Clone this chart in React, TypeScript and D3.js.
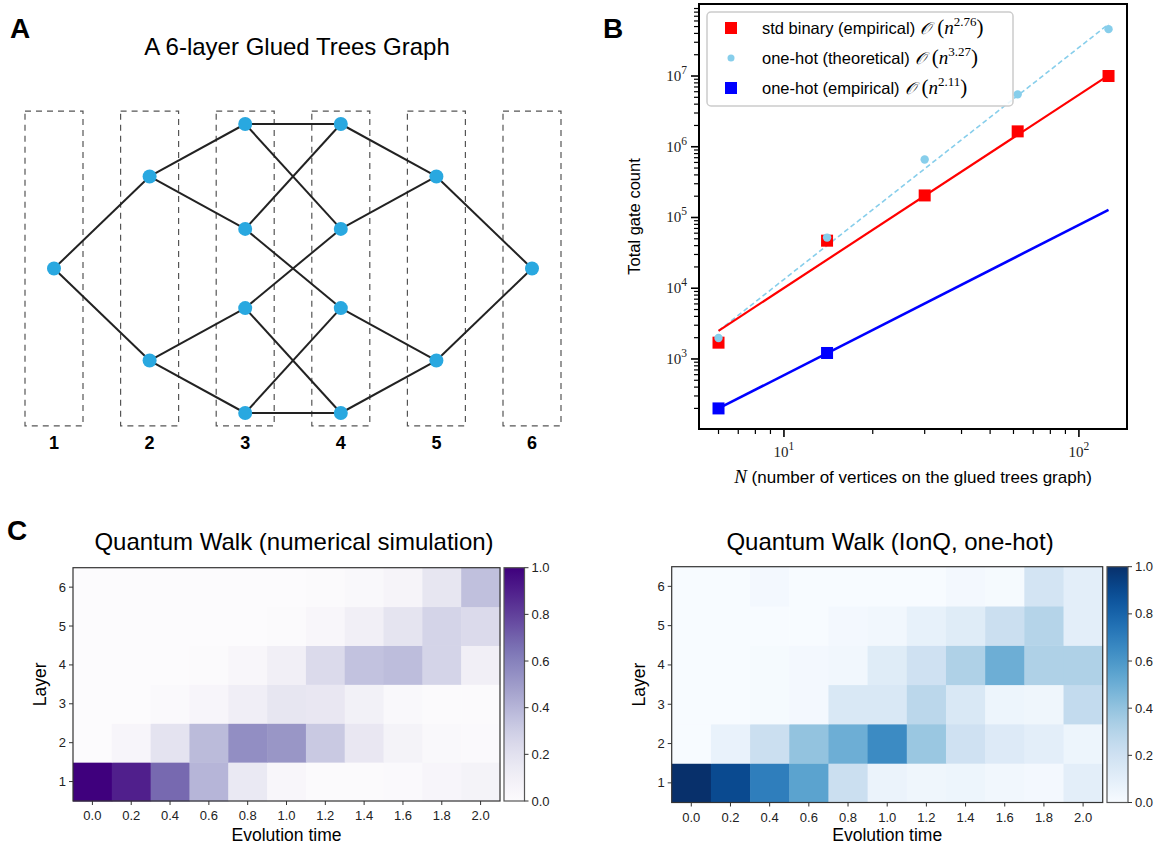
import React from 'react';
import * as d3 from 'd3';

// ---- panel A: glued trees graph ----
const layers = [1, 2, 3, 4, 5, 6];
const nodeLayer = [1, 2, 2, 3, 3, 3, 3, 4, 4, 4, 4, 5, 5, 6];
const nodeHeight = [0, 1, -1, 1.57, 0.43, -0.43, -1.57, 1.57, 0.43, -0.43, -1.57, 1, -1, 0];
const edges = [
  [0, 1], [0, 2], [1, 3], [1, 4], [2, 5], [2, 6],
  [3, 7], [3, 8], [4, 7], [4, 9], [5, 8], [5, 10], [6, 9], [6, 10],
  [7, 11], [8, 11], [9, 12], [10, 12], [11, 13], [12, 13],
];
const boxExtent = [-1.71, 1.71];

// ---- panel B: gate counts ----
const nVertices = [6, 14, 30, 62, 126];
const stdBinary = [1700, 47000, 205000, 1.65e6, 1.0e7];
const oneHotTheory = [1980, 52000, 660000, 5.5e6, 4.6e7];
const oneHotEmpN = [6, 14];
const oneHotEmp = [200, 1215];
const fitN = [6, 126];
const stdFit = [2500, 1.02e7];
const theoryFit = [2500, 5.4e7];
const oneHotFit = [200, 1.28e5];
const yDecades = [3, 4, 5, 6, 7];
const xDecades = [1, 2];

// ---- panel C: quantum walk heatmaps (rows = layer 1..6) ----
const times = ['0.0', '0.2', '0.4', '0.6', '0.8', '1.0', '1.2', '1.4', '1.6', '1.8', '2.0'];
const layerNames = ['1', '2', '3', '4', '5', '6'];
const simData = [
  [1.0, 0.9, 0.68, 0.4, 0.15, 0.04, 0.01, 0.01, 0.02, 0.05, 0.07],
  [0.0, 0.05, 0.19, 0.38, 0.55, 0.52, 0.32, 0.16, 0.07, 0.03, 0.02],
  [0.0, 0.0, 0.02, 0.05, 0.11, 0.17, 0.16, 0.09, 0.03, 0.01, 0.01],
  [0.0, 0.0, 0.0, 0.01, 0.04, 0.1, 0.24, 0.35, 0.37, 0.27, 0.1],
  [0.0, 0.0, 0.0, 0.0, 0.0, 0.01, 0.04, 0.1, 0.18, 0.27, 0.24],
  [0.0, 0.0, 0.0, 0.0, 0.0, 0.0, 0.01, 0.03, 0.06, 0.17, 0.36],
];
const ionqData = [
  [1.0, 0.9, 0.7, 0.55, 0.22, 0.06, 0.04, 0.05, 0.03, 0.02, 0.1],
  [0.0, 0.07, 0.22, 0.4, 0.5, 0.65, 0.38, 0.2, 0.13, 0.1, 0.05],
  [0.0, 0.0, 0.01, 0.02, 0.15, 0.15, 0.28, 0.15, 0.05, 0.04, 0.25],
  [0.0, 0.0, 0.01, 0.02, 0.03, 0.12, 0.2, 0.32, 0.5, 0.32, 0.32],
  [0.0, 0.0, 0.0, 0.0, 0.02, 0.03, 0.08, 0.12, 0.22, 0.3, 0.1],
  [0.0, 0.0, 0.02, 0.0, 0.0, 0.0, 0.0, 0.02, 0.01, 0.18, 0.1],
];
const cbTicks = [0, 0.2, 0.4, 0.6, 0.8, 1.0];

const SANS = 'Liberation Sans, Arial, sans-serif';
const SERIF = 'Liberation Serif, DejaVu Serif, serif';

const GraphPanel = () => {
  const x = d3.scalePoint<number>().domain(layers).range([54, 532]);
  const y = d3.scaleLinear().domain([-1.57, 1.57]).range([413, 124]);
  const halfW = 29;
  return (
    <g>
      <text x={10} y={38} fontFamily={SANS} fontWeight="bold" fontSize={28}>A</text>
      <text x={297} y={55} textAnchor="middle" fontFamily={SANS} fontSize={24}>A 6-layer Glued Trees Graph</text>
      {layers.map(l => (
        <g key={l}>
          <rect x={x(l)! - halfW} y={y(boxExtent[1])} width={halfW * 2} height={y(boxExtent[0]) - y(boxExtent[1])}
            fill="none" stroke="#555" strokeWidth={1.2} strokeDasharray="6,5" />
          <text x={x(l)} y={449} textAnchor="middle" fontFamily={SANS} fontWeight="bold" fontSize={18}>{l}</text>
        </g>
      ))}
      {edges.map(([a, b], i) => (
        <line key={i} x1={x(nodeLayer[a])} y1={y(nodeHeight[a])} x2={x(nodeLayer[b])} y2={y(nodeHeight[b])}
          stroke="#222" strokeWidth={2} />
      ))}
      {nodeLayer.map((l, i) => (
        <circle key={i} cx={x(l)} cy={y(nodeHeight[i])} r={7} fill="#29a8e0" />
      ))}
    </g>
  );
};

const Pow = ({ x, y, base, exp, anchor }: any) => (
  <text x={x} y={y} textAnchor={anchor} fontFamily={SERIF} fontSize={15} fill="#222">
    {base}<tspan dy={-7} fontSize={11.5}>{exp}</tspan>
  </text>
);

const MathO = ({ exp }: any) => (
  <>
    <tspan fontFamily={SERIF} fontStyle="italic" fontSize={17} dx={5}>{'\u{1D4AA}'}</tspan>
    <tspan fontFamily={SERIF} fontSize={21} dx={6}>(</tspan>
    <tspan fontFamily={SERIF} fontStyle="italic" fontSize={19}>n</tspan>
    <tspan fontFamily={SERIF} fontSize={13} dy={-8}>{exp}</tspan>
    <tspan fontFamily={SERIF} fontSize={21} dy={8}>)</tspan>
  </>
);

const GatePanel = () => {
  const left = 699, right = 1127, top = 4, bottom = 429;
  const x = d3.scaleLog().domain([Math.pow(10, 0.712), Math.pow(10, 2.163)]).range([left, right]);
  const y = d3.scaleLog().domain([Math.pow(10, 2.01), Math.pow(10, 8.018)]).range([bottom, top]);
  const line = d3.line<[number, number]>().x(d => x(d[0])).y(d => y(d[1]));
  const [y0, y1] = y.domain();
  const [x0, x1] = x.domain();
  const yMinor: number[] = [];
  for (let e = 2; e <= 8; e++) for (let m = 2; m <= 9; m++) { const v = m * Math.pow(10, e); if (v > y0 && v < y1) yMinor.push(v); }
  const xMinor: number[] = [];
  for (let e = 0; e <= 2; e++) for (let m = 2; m <= 9; m++) { const v = m * Math.pow(10, e); if (v > x0 && v < x1) xMinor.push(v); }
  const sq = 12;
  return (
    <g>
      <text x={603} y={38} fontFamily={SANS} fontWeight="bold" fontSize={28}>B</text>
      <path d={line(fitN.map((n, i) => [n, theoryFit[i]]) as any)!} fill="none" stroke="#87ceeb" strokeWidth={1.6} strokeDasharray="5,3" />
      <path d={line(fitN.map((n, i) => [n, stdFit[i]]) as any)!} fill="none" stroke="#ff0000" strokeWidth={2.2} />
      <path d={line(fitN.map((n, i) => [n, oneHotFit[i]]) as any)!} fill="none" stroke="#0000ff" strokeWidth={2.5} />
      {nVertices.map((n, i) => (
        <rect key={'r' + i} x={x(n) - sq / 2} y={y(stdBinary[i]) - sq / 2} width={sq} height={sq} fill="#ff0000" />
      ))}
      {oneHotEmpN.map((n, i) => (
        <rect key={'b' + i} x={x(n) - sq / 2} y={y(oneHotEmp[i]) - sq / 2} width={sq} height={sq} fill="#0000ff" />
      ))}
      {nVertices.map((n, i) => (
        <circle key={'c' + i} cx={x(n)} cy={y(oneHotTheory[i])} r={4.2} fill="#87ceeb" />
      ))}
      <rect x={left} y={top} width={right - left} height={bottom - top} fill="none" stroke="#000" strokeWidth={2} />
      {yDecades.map(e => (
        <g key={e}>
          <line x1={left - 8} x2={left} y1={y(Math.pow(10, e))} y2={y(Math.pow(10, e))} stroke="#000" strokeWidth={1.6} />
          <Pow x={left - 12} y={y(Math.pow(10, e)) + 5} base="10" exp={e} anchor="end" />
        </g>
      ))}
      {yMinor.map((v, i) => (
        <line key={i} x1={left - 5} x2={left} y1={y(v)} y2={y(v)} stroke="#000" strokeWidth={1.2} />
      ))}
      {xDecades.map(e => (
        <g key={e}>
          <line x1={x(Math.pow(10, e))} x2={x(Math.pow(10, e))} y1={bottom} y2={bottom + 8} stroke="#000" strokeWidth={1.6} />
          <Pow x={x(Math.pow(10, e))} y={bottom + 28} base="10" exp={e} anchor="middle" />
        </g>
      ))}
      {xMinor.map((v, i) => (
        <line key={i} x1={x(v)} x2={x(v)} y1={bottom} y2={bottom + 5} stroke="#000" strokeWidth={1.2} />
      ))}
      <text transform={`translate(640,${(top + bottom) / 2}) rotate(-90)`} textAnchor="middle" fontFamily={SANS} fontSize={16.5}>Total gate count</text>
      <text x={(left + right) / 2} y={483} textAnchor="middle" fontFamily={SANS} fontSize={17}>
        <tspan fontFamily={SERIF} fontStyle="italic" fontSize={19}>N</tspan> (number of vertices on the glued trees graph)
      </text>
      {/* legend */}
      <rect x={707} y={12} width={306} height={94} rx={4} fill="#fff" fillOpacity={0.85} stroke="#ccc" strokeWidth={1.5} />
      <rect x={731 - 6} y={28 - 6} width={12} height={12} fill="#ff0000" />
      <circle cx={731} cy={58} r={3.5} fill="#87ceeb" />
      <rect x={731 - 6} y={88 - 6} width={12} height={12} fill="#0000ff" />
      <text x={762} y={34} fontFamily={SANS} fontSize={16.5}>std binary (empirical)<MathO exp="2.76" /></text>
      <text x={762} y={64} fontFamily={SANS} fontSize={16.5}>one-hot (theoretical)<MathO exp="3.27" /></text>
      <text x={762} y={94} fontFamily={SANS} fontSize={16.5}>one-hot (empirical)<MathO exp="2.11" /></text>
    </g>
  );
};

const Heatmap = ({ data, interp, left, right, top, bottom, cbLeft, cbRight, title, titleX, gid, letter }: any) => {
  const x = d3.scaleBand().domain(times).range([left, right]);
  const y = d3.scaleBand().domain(layerNames).range([bottom, top]);
  const c = d3.scaleSequential(interp).domain([0, 1]);
  const cy = d3.scaleLinear().domain([0, 1]).range([bottom, top]);
  const stops = d3.range(0, 1.0001, 0.05);
  return (
    <g>
      {letter && <text x={7} y={540} fontFamily={SANS} fontWeight="bold" fontSize={28}>{letter}</text>}
      <text x={titleX} y={550} textAnchor="middle" fontFamily={SANS} fontSize={24}>{title}</text>
      {data.map((row: number[], r: number) => row.map((v, k) => (
        <rect key={r + '-' + k} x={x(times[k])} y={y(layerNames[r])} width={x.bandwidth() + 0.5} height={y.bandwidth() + 0.5} fill={c(v)} />
      )))}
      <rect x={left} y={top} width={right - left} height={bottom - top} fill="none" stroke="#333" strokeWidth={1.2} />
      {layerNames.map(l => (
        <g key={l}>
          <line x1={left - 4} x2={left} y1={y(l)! + y.bandwidth() / 2} y2={y(l)! + y.bandwidth() / 2} stroke="#333" />
          <text x={left - 7} y={y(l)! + y.bandwidth() / 2 + 4.5} textAnchor="end" fontFamily={SANS} fontSize={13} fill="#222">{l}</text>
        </g>
      ))}
      {times.map(t => (
        <g key={t}>
          <line x1={x(t)! + x.bandwidth() / 2} x2={x(t)! + x.bandwidth() / 2} y1={bottom} y2={bottom + 4} stroke="#333" />
          <text x={x(t)! + x.bandwidth() / 2} y={bottom + 19} textAnchor="middle" fontFamily={SANS} fontSize={13} fill="#222">{t}</text>
        </g>
      ))}
      <text x={(left + right) / 2} y={841} textAnchor="middle" fontFamily={SANS} fontSize={17.5}>Evolution time</text>
      <text transform={`translate(${left - 27},${(top + bottom) / 2}) rotate(-90)`} textAnchor="middle" fontFamily={SANS} fontSize={17.5}>Layer</text>
      <defs>
        <linearGradient id={gid} x1="0" y1="1" x2="0" y2="0">
          {stops.map(s => <stop key={s} offset={s} stopColor={c(s)} />)}
        </linearGradient>
      </defs>
      <rect x={cbLeft} y={top} width={cbRight - cbLeft} height={bottom - top} fill={`url(#${gid})`} stroke="#555" strokeWidth={1.2} />
      {cbTicks.map(t => (
        <g key={t}>
          <line x1={cbRight} x2={cbRight + 4} y1={cy(t)} y2={cy(t)} stroke="#333" />
          <text x={cbRight + 7} y={cy(t) + 4.5} fontFamily={SANS} fontSize={13} fill="#222">{t.toFixed(1)}</text>
        </g>
      ))}
    </g>
  );
};

export default function App() {
  return (
    <svg width={1171} height={848} style={{ position: 'absolute', left: 0, top: 0, background: '#fff' }}>
      <rect width={1171} height={848} fill="#fff" />
      <GraphPanel />
      <GatePanel />
      <Heatmap data={simData} interp={d3.interpolatePurples} left={73} right={500} top={567.7} bottom={801}
        cbLeft={504} cbRight={524.5} title="Quantum Walk (numerical simulation)" titleX={294} gid="gP" letter="C" />
      <Heatmap data={ionqData} interp={d3.interpolateBlues} left={671.7} right={1102.7} top={566.7} bottom={802.5}
        cbLeft={1107} cbRight={1128} title="Quantum Walk (IonQ, one-hot)" titleX={890} gid="gB" />
    </svg>
  );
}
